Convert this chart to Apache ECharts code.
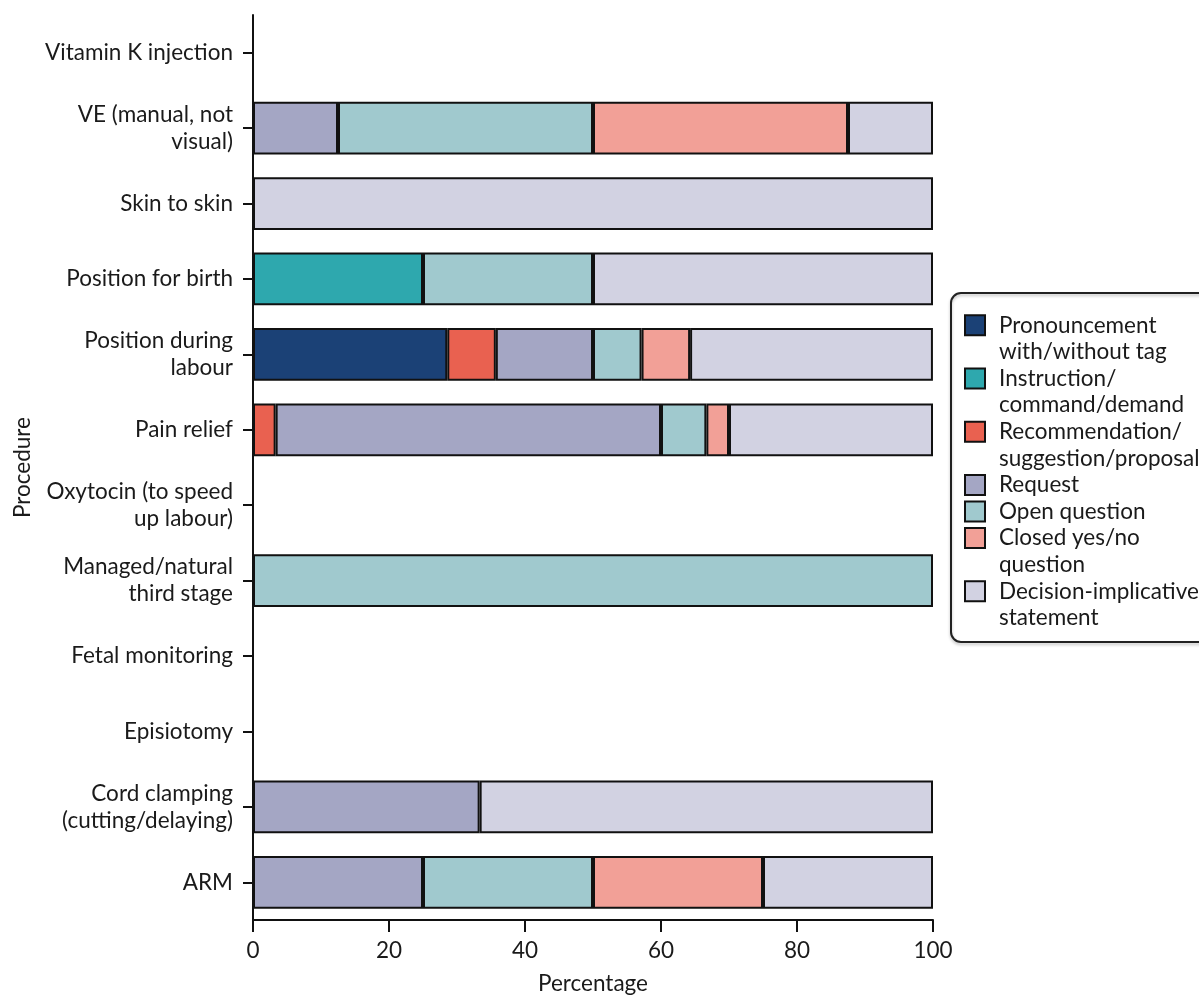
<!DOCTYPE html>
<html>
<head>
<meta charset="utf-8">
<script src="https://cdn.jsdelivr.net/npm/echarts@6/dist/echarts.min.js"></script>
<style>
  html, body { margin: 0; padding: 0; background: #fff; }
  #chart { width: 1199px; height: 995px; }
</style>
</head>
<body>
<div id="chart"></div>
<script>
// Categories, bottom to top
var categories = [
  'ARM',
  'Cord clamping\n(cutting/delaying)',
  'Episiotomy',
  'Fetal monitoring',
  'Managed/natural\nthird stage',
  'Oxytocin (to speed\nup labour)',
  'Pain relief',
  'Position during\nlabour',
  'Position for birth',
  'Skin to skin',
  'VE (manual, not\nvisual)',
  'Vitamin K injection'
];

var seriesNames = [
  'Pronouncement with/without tag',
  'Instruction/command/demand',
  'Recommendation/suggestion/proposal',
  'Request',
  'Open question',
  'Closed yes/no question',
  'Decision-implicative statement'
];

var legendLabels = [
  'Pronouncement\nwith/without tag',
  'Instruction/\ncommand/demand',
  'Recommendation/\nsuggestion/proposal',
  'Request',
  'Open question',
  'Closed yes/no\nquestion',
  'Decision-implicative\nstatement'
];

var pronouncement  = [0, 0, 0, 0, 0, 0, 0, 28.57, 0, 0, 0, 0];
var instruction    = [0, 0, 0, 0, 0, 0, 0, 0, 25, 0, 0, 0];
var recommendation = [0, 0, 0, 0, 0, 0, 3.33, 7.14, 0, 0, 0, 0];
var request        = [25, 33.33, 0, 0, 0, 0, 56.67, 14.29, 0, 0, 12.5, 0];
var openQuestion   = [25, 0, 0, 0, 100, 0, 6.67, 7.14, 25, 0, 37.5, 0];
var closedQuestion = [25, 0, 0, 0, 0, 0, 3.33, 7.14, 0, 0, 37.5, 0];
var decision       = [25, 66.67, 0, 0, 0, 0, 30, 35.71, 50, 100, 12.5, 0];

var xTicks = [0, 20, 40, 60, 80, 100];

var seriesValues = [pronouncement, instruction, recommendation, request, openQuestion, closedQuestion, decision];
var colors = ['#1b4176', '#2ea8ae', '#e96150', '#a4a6c4', '#a0c9ce', '#f2a097', '#d2d2e2'];

var FONT = 'Lato, "Noto Sans", sans-serif';
var TEXT = '#1a1a1a';
var FS = 22.5;

var series = seriesNames.map(function (name, i) {
  return {
    name: name,
    type: 'bar',
    stack: 'total',
    barCategoryGap: '30%',
    itemStyle: { color: colors[i], borderColor: '#111', borderWidth: 2 },
    emphasis: { disabled: true },
    data: seriesValues[i].map(function (v) { return v === 0 ? null : v; })
  };
});

// Legend: one legend block per item so the swatch sits on the first text line
var lineH = 26.6;
var lineCounts = legendLabels.map(function (l) { return l.split('\n').length; });
var legends = [];
var lineIdx = 0;
seriesNames.forEach(function (name, i) {
  var n = lineCounts[i];
  var h = 20 + (n - 1) * lineH;
  legends.push({
    left: 964,
    top: 312 + lineIdx * lineH,
    orient: 'vertical',
    padding: 0,
    itemGap: 0,
    itemWidth: 20,
    itemHeight: h,
    icon: 'path://M0,0L20,0L20,20L0,20Z' + (n > 1 ? 'M0,' + h.toFixed(2) : ''),
    data: [name],
    formatter: function () { return legendLabels[i]; },
    textStyle: { fontFamily: FONT, fontSize: FS, color: TEXT, lineHeight: lineH, padding: [0, 0, 0, 9] }
  });
  lineIdx += n;
});

var chart = echarts.init(document.getElementById('chart'));
chart.setOption({
  animation: false,
  backgroundColor: '#fff',
  textStyle: { fontFamily: FONT },
  grid: { left: 253, right: 266, top: 15, bottom: 75, containLabel: false, outerBoundsMode: 'none' },
  legend: legends,
  graphic: [{
    type: 'rect',
    shape: { x: 951, y: 293, width: 330, height: 349, r: 10 },
    style: { fill: 'none', stroke: '#222', lineWidth: 2, shadowBlur: 3, shadowOffsetY: 2, shadowColor: 'rgba(0,0,0,0.25)' },
    silent: true,
    z: 0
  }],
  xAxis: {
    type: 'value',
    min: xTicks[0],
    max: xTicks[xTicks.length - 1],
    interval: xTicks[1] - xTicks[0],
    name: 'Percentage',
    nameLocation: 'middle',
    nameGap: 52,
    nameTextStyle: { fontFamily: FONT, fontSize: FS, color: TEXT },
    axisLine: { show: true, lineStyle: { color: '#111', width: 2 } },
    axisTick: { show: true, length: 12, lineStyle: { color: '#111', width: 2 } },
    axisLabel: { fontFamily: FONT, fontSize: FS, color: TEXT, margin: 19 },
    splitLine: { show: false }
  },
  yAxis: {
    type: 'category',
    data: categories,
    name: 'Procedure',
    nameLocation: 'middle',
    nameRotate: 90,
    nameGap: 216,
    nameTextStyle: { fontFamily: FONT, fontSize: FS, color: TEXT },
    axisLine: { show: true, lineStyle: { color: '#111', width: 2 } },
    axisTick: { show: true, alignWithLabel: true, length: 10, lineStyle: { color: '#111', width: 2 } },
    axisLabel: { fontFamily: FONT, fontSize: FS, color: TEXT, margin: 20, lineHeight: 27, align: 'right' },
    splitLine: { show: false }
  },
  series: series
});
</script>
</body>
</html>
